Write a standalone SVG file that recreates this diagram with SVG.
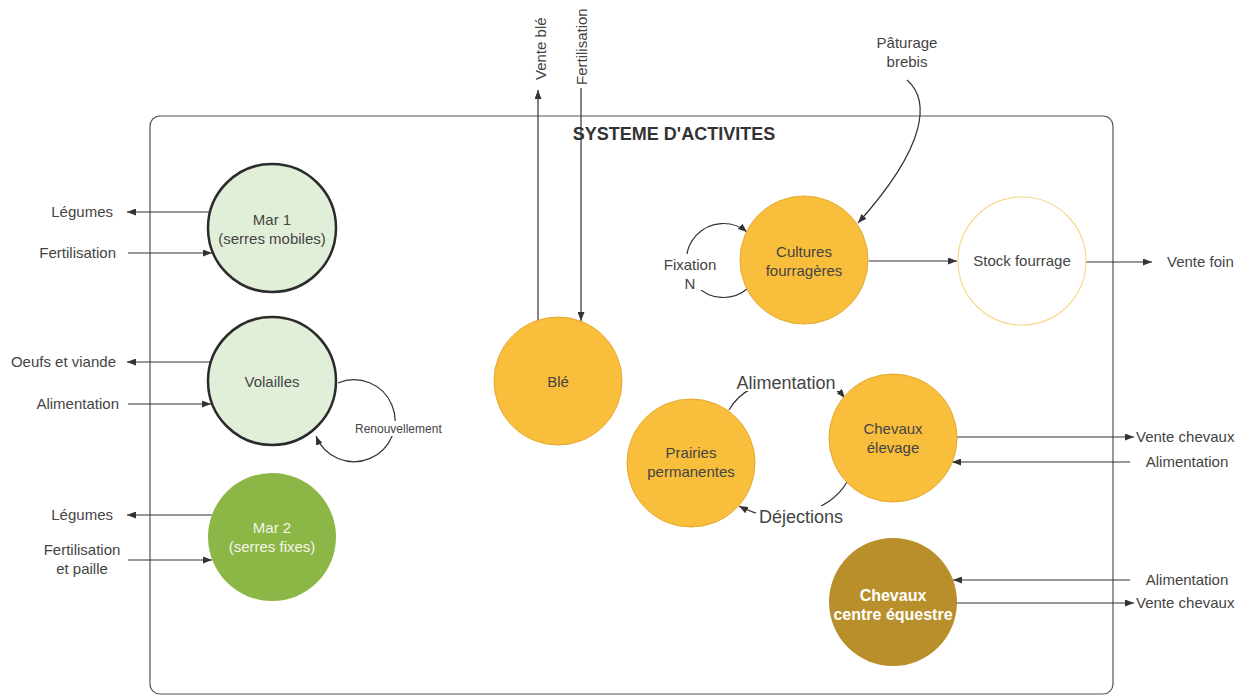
<svg xmlns="http://www.w3.org/2000/svg" width="1255" height="697" viewBox="0 0 1255 697">
<defs>
<style>
text{font-family:"Liberation Sans",Arial,sans-serif;font-size:15px;fill:#444}
.c{text-anchor:middle}
.e{text-anchor:end}
.big{font-size:18px}
.sm{font-size:12px}
.w{fill:#f4f7ea}
.wb{fill:#fff;font-weight:bold;font-size:16px}
.title{font-weight:bold;font-size:18px;fill:#333;text-anchor:middle}
.ln{fill:none;stroke:#333;stroke-width:1.2}
.or{fill:#f9be3c;stroke:#e5a82c;stroke-width:1}
</style>
<marker id="ah" markerWidth="9" markerHeight="7" refX="9" refY="3.5" orient="auto" markerUnits="userSpaceOnUse">
<path d="M0,0 L9,3.5 L0,7 z" fill="#333"/>
</marker>
</defs>
<rect width="1255" height="697" fill="#fff"/>

<g id="container">
<rect x="150" y="116" width="963" height="578" rx="10" fill="none" stroke="#555" stroke-width="1.2"/>
<text class="title" x="674" y="140">SYSTEME D'ACTIVITES</text>
</g>

<g id="connectors">
<line class="ln" x1="210" y1="212" x2="127" y2="212" marker-end="url(#ah)"/>
<line class="ln" x1="128" y1="253" x2="212" y2="253" marker-end="url(#ah)"/>
<line class="ln" x1="211" y1="362" x2="127" y2="362" marker-end="url(#ah)"/>
<line class="ln" x1="128" y1="404" x2="211" y2="404" marker-end="url(#ah)"/>
<path class="ln" d="M338 383 A41 41 0 1 1 316 436" marker-end="url(#ah)"/>
<line class="ln" x1="212" y1="515" x2="127" y2="515" marker-end="url(#ah)"/>
<line class="ln" x1="128" y1="560" x2="212" y2="560" marker-end="url(#ah)"/>
<line class="ln" x1="538" y1="322" x2="538" y2="90" marker-end="url(#ah)"/>
<line class="ln" x1="581" y1="88" x2="581" y2="321" marker-end="url(#ah)"/>
<path class="ln" d="M907 80 C930 100 928 145 858 223" marker-end="url(#ah)"/>
<path class="ln" d="M747 289 A37 37 0 1 1 747 232" marker-end="url(#ah)"/>
<line class="ln" x1="869" y1="261" x2="957" y2="261" marker-end="url(#ah)"/>
<line class="ln" x1="1086" y1="262" x2="1152" y2="262" marker-end="url(#ah)"/>
<path class="ln" d="M729 410 C750 372 820 368 845 398" marker-end="url(#ah)"/>
<path class="ln" d="M847 482 C830 512 780 528 739 506" marker-end="url(#ah)"/>
<line class="ln" x1="957" y1="437" x2="1134" y2="437" marker-end="url(#ah)"/>
<line class="ln" x1="1130" y1="462" x2="952" y2="462" marker-end="url(#ah)"/>
<line class="ln" x1="1130" y1="580" x2="953" y2="580" marker-end="url(#ah)"/>
<line class="ln" x1="957" y1="603" x2="1134" y2="603" marker-end="url(#ah)"/>
</g>

<g id="labels">
<text class="e" x="113" y="217">Légumes</text>
<text class="e" x="116" y="258">Fertilisation</text>
<text class="e" x="116" y="367">Oeufs et viande</text>
<text class="e" x="119" y="409">Alimentation</text>
<rect x="354" y="421" width="92" height="15" fill="#fff"/>
<text class="sm" x="355" y="433">Renouvellement</text>
<text class="e" x="113" y="520">Légumes</text>
<text class="c" x="82" y="555">Fertilisation</text>
<text class="c" x="82" y="574">et paille</text>
<text transform="translate(546,80) rotate(-90)">Vente blé</text>
<text transform="translate(587,85) rotate(-90)">Fertilisation</text>
<text class="c" x="907" y="48">Pâturage</text>
<text class="c" x="907" y="67">brebis</text>
<rect x="665" y="254" width="50" height="36" fill="#fff"/>
<text class="c" x="690" y="270">Fixation</text>
<text class="c" x="690" y="289">N</text>
<text x="1167" y="267">Vente foin</text>
<rect x="736" y="371" width="102" height="20" fill="#fff"/>
<text class="big c" x="786" y="389">Alimentation</text>
<rect x="756" y="506" width="90" height="20" fill="#fff"/>
<text class="big c" x="801" y="523">Déjections</text>
<text x="1136" y="442">Vente chevaux</text>
<text class="c" x="1187" y="467">Alimentation</text>
<text class="c" x="1187" y="585">Alimentation</text>
<text x="1136" y="608">Vente chevaux</text>
</g>

<g id="mar1">
<circle cx="272" cy="228" r="64" fill="#e2efd8" stroke="#2b2b2b" stroke-width="2.5"/>
<text class="c" x="272" y="225">Mar 1</text>
<text class="c" x="272" y="244">(serres mobiles)</text>
</g>
<g id="volailles">
<circle cx="272" cy="381" r="64" fill="#e2efd8" stroke="#2b2b2b" stroke-width="2.5"/>
<text class="c" x="272" y="387">Volailles</text>
</g>
<g id="mar2">
<circle cx="272" cy="537" r="64" fill="#8cb645"/>
<text class="c w" x="272" y="533">Mar 2</text>
<text class="c w" x="272" y="552">(serres fixes)</text>
</g>
<g id="ble">
<circle class="or" cx="558" cy="381" r="64"/>
<text class="c" x="558" y="387">Blé</text>
</g>
<g id="cultures">
<circle class="or" cx="804" cy="260" r="64"/>
<text class="c" x="804" y="257">Cultures</text>
<text class="c" x="804" y="276">fourragères</text>
</g>
<g id="stock">
<circle cx="1022" cy="261" r="64" fill="#fff" stroke="#f7d98c" stroke-width="1.2"/>
<text class="c" x="1022" y="266">Stock fourrage</text>
</g>
<g id="prairies">
<circle class="or" cx="691" cy="463" r="64"/>
<text class="c" x="691" y="458">Prairies</text>
<text class="c" x="691" y="477">permanentes</text>
</g>
<g id="chevaux-elevage">
<circle class="or" cx="893" cy="438" r="64"/>
<text class="c" x="893" y="434">Chevaux</text>
<text class="c" x="893" y="453">élevage</text>
</g>
<g id="chevaux-centre">
<circle cx="893" cy="602" r="64" fill="#b88f2b"/>
<text class="c wb" x="893" y="601">Chevaux</text>
<text class="c wb" x="893" y="620">centre équestre</text>
</g>
</svg>
